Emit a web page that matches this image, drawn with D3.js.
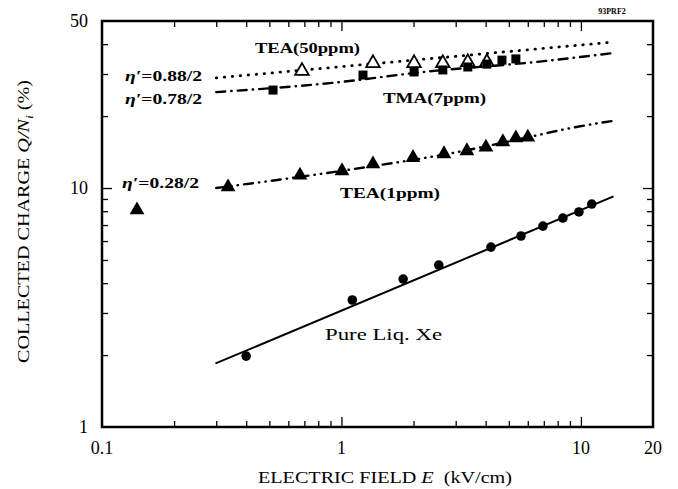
<!DOCTYPE html>
<html>
<head>
<meta charset="utf-8">
<script src="https://cdn.jsdelivr.net/npm/d3@7"></script>
<style>
  body { margin: 0; background: #fff; }
  text { font-family: "Liberation Serif", "DejaVu Serif", serif; fill: #000; }
</style>
</head>
<body>
<script>
// ---------------------- DATA ----------------------
// electric field E (kV/cm) and collected charge Q/Ni (%)

const pureE = [0.40, 1.11, 1.81, 2.55, 4.21, 5.62, 6.94, 8.41, 9.81, 11.1];
const pureQ = [1.98, 3.40, 4.16, 4.76, 5.66, 6.30, 6.93, 7.49, 7.94, 8.57];

const tea1E = [0.14, 0.336, 0.671, 1.005, 1.354, 1.99, 2.68, 3.34, 4.01, 4.72, 5.35, 6.0];
const tea1Q = [8.09, 10.1, 11.3, 11.8, 12.6, 13.4, 13.9, 14.3, 14.8, 15.6, 16.2, 16.3];

const tmaE = [0.518, 1.23, 2.01, 2.65, 3.37, 4.05, 4.68, 5.35];
const tmaQ = [25.7, 29.7, 30.6, 31.2, 32.1, 33.0, 34.3, 34.7];

const tea50E = [0.684, 1.354, 2.01, 2.65, 3.37, 4.05];
const tea50Q = [30.9, 33.3, 33.3, 33.3, 33.6, 33.6];

// fitted / calculated curves
const pureFitE = [0.3, 13.6];
const pureFitQ = [1.85, 9.2];
const tea1FitE = [0.3, 1, 3, 6, 9, 13.6];
const tea1FitQ = [10.0, 11.8, 14.1, 16.3, 17.8, 19.1];
const tmaFitE = [0.3, 1, 2.2, 6.5, 13.6];
const tmaFitQ = [25.2, 27.8, 30.6, 33.7, 36.7];
const tea50FitE = [0.3, 13.6];
const tea50FitQ = [28.9, 40.8];

const xTicks = [0.2, 0.3, 0.4, 0.5, 0.6, 0.7, 0.8, 0.9, 1, 2, 3, 4, 5, 6, 7, 8, 9, 10];
const xLabels = [0.1, 1, 10, 20];
const yTicks = [2, 3, 4, 5, 6, 7, 8, 9, 10, 20, 30, 40];
const yLabels = [1, 10, 50];

// ---------------------- LAYOUT ----------------------

const W = 678, H = 489;
const margin = { top: 21, right: 25, bottom: 62, left: 102 };
const iw = W - margin.left - margin.right;
const ih = H - margin.top - margin.bottom;

const svg = d3.select("body").append("svg")
    .attr("width", W)
    .attr("height", H);

const g = svg.append("g")
    .attr("transform", `translate(${margin.left},${margin.top})`);

const x = d3.scaleLog().domain([0.1, 20]).range([0, iw]);
const y = d3.scaleLog().domain([1, 50]).range([ih, 0]);

const zip = (a, b) => a.map((v, i) => [v, b[i]]);

// ---------------------- AXES (inward ticks on all four sides) ----------------------

function tickLen(v) { return (v === 1 || v === 10) ? 10 : 6; }

function styleAxis(sel) {
    sel.select(".domain").remove();
    sel.selectAll(".tick line").attr("stroke", "#000").attr("stroke-width", 1.3);
}

g.append("g").attr("transform", `translate(0,${ih})`)
    .call(d3.axisBottom(x).tickValues(xTicks).tickFormat("").tickSize(-6))
    .call(styleAxis)
    .call(s => s.selectAll(".tick line").attr("y2", d => -tickLen(d)));

g.append("g")
    .call(d3.axisTop(x).tickValues(xTicks).tickFormat("").tickSize(-6))
    .call(styleAxis)
    .call(s => s.selectAll(".tick line").attr("y2", d => tickLen(d)));

g.append("g")
    .call(d3.axisLeft(y).tickValues(yTicks).tickFormat("").tickSize(-6))
    .call(styleAxis)
    .call(s => s.selectAll(".tick line").attr("x2", d => tickLen(d)));

g.append("g").attr("transform", `translate(${iw},0)`)
    .call(d3.axisRight(y).tickValues(yTicks).tickFormat("").tickSize(-6))
    .call(styleAxis)
    .call(s => s.selectAll(".tick line").attr("x2", d => -tickLen(d)));

// tick labels
g.selectAll(".xlab")
    .data(xLabels)
    .enter().append("text")
    .attr("class", "xlab")
    .attr("x", d => x(d))
    .attr("y", ih + 27)
    .attr("text-anchor", "middle")
    .style("font-size", "18px")
    .text(d => d);

g.selectAll(".ylab")
    .data(yLabels)
    .enter().append("text")
    .attr("class", "ylab")
    .attr("x", -14)
    .attr("y", d => y(d) + 6)
    .attr("text-anchor", "end")
    .style("font-size", "18px")
    .text(d => d);

// frame
g.append("rect")
    .attr("width", iw)
    .attr("height", ih)
    .attr("fill", "none")
    .attr("stroke", "#000")
    .attr("stroke-width", 2.5);

// axis titles
const xt = svg.append("text")
    .attr("x", 258)
    .attr("y", 483)
    .attr("textLength", 254)
    .attr("lengthAdjust", "spacingAndGlyphs")
    .style("font-size", "16px");
xt.append("tspan").text("ELECTRIC FIELD ");
xt.append("tspan").style("font-style", "italic").text("E");
xt.append("tspan").text("\u00a0 (kV/cm)");

const yt = svg.append("text")
    .attr("transform", "translate(29,363) rotate(-90)")
    .attr("textLength", 283)
    .attr("lengthAdjust", "spacingAndGlyphs")
    .style("font-size", "16px");
yt.append("tspan").text("COLLECTED CHARGE ");
yt.append("tspan").style("font-style", "italic").text("Q/N");
yt.append("tspan").style("font-style", "italic").style("font-size", "11px").attr("dy", 4).text("i");
yt.append("tspan").attr("dy", -4).text(" (%)");

svg.append("text")
    .attr("x", 612)
    .attr("y", 14)
    .attr("text-anchor", "middle")
    .style("font-size", "8px")
    .style("font-weight", "bold")
    .text("93PRF2");

// ---------------------- CURVES ----------------------

const line = d3.line()
    .x(d => x(d[0]))
    .y(d => y(d[1]))
    .curve(d3.curveMonotoneX);

function drawCurve(es, qs, dash, width) {
    g.append("path")
        .datum(zip(es, qs))
        .attr("d", line)
        .attr("fill", "none")
        .attr("stroke", "#000")
        .attr("stroke-width", width)
        .attr("stroke-linecap", "round")
        .attr("stroke-dasharray", dash);
}

drawCurve(pureFitE, pureFitQ, null, 2);
drawCurve(tea1FitE, tea1FitQ, "9,6,0.5,6,0.5,6", 2.4);
drawCurve(tmaFitE, tmaFitQ, "9,6,0.5,6", 2.4);
drawCurve(tea50FitE, tea50FitQ, "0.5,7.5", 2.8);

// ---------------------- MARKERS ----------------------

const tri = d3.symbol().type(d3.symbolTriangle).size(95);

g.selectAll(".pure")
    .data(zip(pureE, pureQ))
    .enter().append("circle")
    .attr("class", "pure")
    .attr("cx", d => x(d[0]))
    .attr("cy", d => y(d[1]))
    .attr("r", 4.8)
    .attr("fill", "#000");

g.selectAll(".tea1")
    .data(zip(tea1E, tea1Q))
    .enter().append("path")
    .attr("class", "tea1")
    .attr("d", tri)
    .attr("transform", d => `translate(${x(d[0])},${y(d[1])})`)
    .attr("fill", "#000");

g.selectAll(".tea50")
    .data(zip(tea50E, tea50Q))
    .enter().append("path")
    .attr("class", "tea50")
    .attr("d", d3.symbol().type(d3.symbolTriangle).size(80))
    .attr("transform", d => `translate(${x(d[0])},${y(d[1])})`)
    .attr("fill", "#fff")
    .attr("stroke", "#000")
    .attr("stroke-width", 1.8);

g.selectAll(".tma")
    .data(zip(tmaE, tmaQ))
    .enter().append("rect")
    .attr("class", "tma")
    .attr("x", d => x(d[0]) - 4.5)
    .attr("y", d => y(d[1]) - 4.5)
    .attr("width", 9)
    .attr("height", 9)
    .attr("fill", "#000");

// ---------------------- LABELS ----------------------

function label(txt, px, py, len, opts) {
    const t = svg.append("text")
        .attr("x", px)
        .attr("y", py)
        .attr("textLength", len)
        .attr("lengthAdjust", "spacingAndGlyphs")
        .style("font-size", opts.size + "px")
        .style("font-weight", opts.bold ? "bold" : "normal");
    if (opts.eta) {
        t.append("tspan").style("font-style", "italic").text("\u03b7\u2032");
        t.append("tspan").text(txt);
    } else {
        t.text(txt);
    }
}

label("TEA(50ppm)", 255, 53, 105, { size: 15, bold: true });
label("TMA(7ppm)", 383, 103, 103, { size: 15, bold: true });
label("TEA(1ppm)", 340, 198, 100, { size: 15, bold: true });
label("=0.88/2", 125, 81, 77, { size: 15, bold: true, eta: true });
label("=0.78/2", 125, 104, 77, { size: 15, bold: true, eta: true });
label("=0.28/2", 122, 188, 77, { size: 15, bold: true, eta: true });
label("Pure Liq. Xe", 325, 340, 117, { size: 16, bold: false });
</script>
</body>
</html>
